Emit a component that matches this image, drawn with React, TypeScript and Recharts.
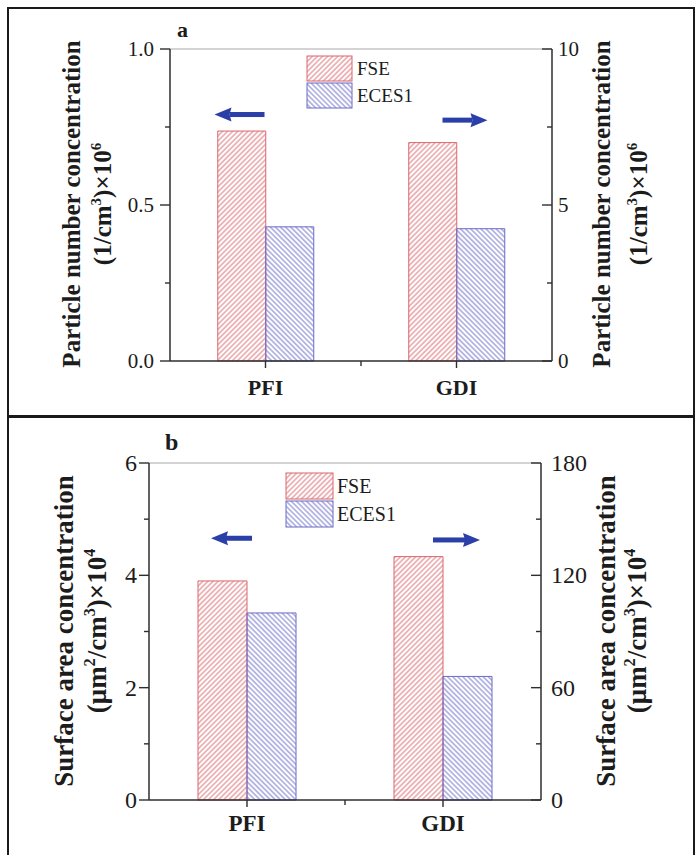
import type { ReactNode } from "react";
import { BarChart, Bar, XAxis, YAxis, ReferenceLine, ReferenceDot, Legend } from "recharts";

const FONT = "'Liberation Serif', 'Times New Roman', serif";
const INK = "#1c1c1c";
const AXIS = "#2e2e2e";
const RED = "#d9666c";
const BLUE = "#6a6ac8";
const ARROW = "#2b3fa8";

// PFI is read on the left axis, GDI on the right axis
const categories = ["PFI", "GDI"];
const axisOf = ["left", "right"];
const seriesNames = ["FSE", "ECES1"];

// (a) particle number concentration
const numberFse = [0.737, 7.0];
const numberEces = [0.43, 4.24];
const numberLeftTicks = [0, 0.25, 0.5, 0.75, 1];
const numberLeftLabels = ["0.0", "", "0.5", "", "1.0"];
const numberRightTicks = [0, 2.5, 5, 7.5, 10];
const numberRightLabels = ["0", "", "5", "", "10"];

// (b) surface area concentration
const areaFse = [3.9, 130];
const areaEces = [3.33, 66];
const areaLeftTicks = [0, 1, 2, 3, 4, 5, 6];
const areaLeftLabels = ["0", "", "2", "", "4", "", "6"];
const areaRightTicks = [0, 30, 60, 90, 120, 150, 180];
const areaRightLabels = ["0", "", "60", "", "120", "", "180"];

// arrow annotations: category, axis, height, and tip/tail offsets from the category centre
const numberArrows = [
  { cat: "PFI", side: "left", y: 0.79, tip: -51, tail: -1 },
  { cat: "GDI", side: "right", y: 7.72, tip: 31, tail: -14 },
];
const areaArrows = [
  { cat: "PFI", side: "left", y: 4.66, tip: -36, tail: 5 },
  { cat: "GDI", side: "right", y: 138.9, tip: 37, tail: -10 },
];

function buildRows(fse: number[], eces: number[]) {
  return categories.map((cat, i) => ({
    cat,
    fseLeft: axisOf[i] === "left" ? fse[i] : null,
    ecesLeft: axisOf[i] === "left" ? eces[i] : null,
    fseRight: axisOf[i] === "right" ? fse[i] : null,
    ecesRight: axisOf[i] === "right" ? eces[i] : null,
  }));
}

function sup(text: string, size: number, tail: string) {
  return [
    <tspan key={`s${text}`} dy={-size * 0.42} fontSize={size * 0.6}>{text}</tspan>,
    <tspan key={`t${text}`} dy={size * 0.42}>{tail}</tspan>,
  ];
}

function YTick(props: any) {
  const { x, y, payload, ticks, labels, side, gap, fontSize } = props;
  const label = labels[ticks.indexOf(payload.value)] ?? "";
  const len = label ? 10 : 5;
  return (
    <g>
      <line x1={x} x2={x - len} y1={y} y2={y} stroke={AXIS} strokeWidth={1.4} />
      {label && (
        <text
          x={side === "left" ? x - gap : x + gap}
          y={y}
          dy="0.34em"
          textAnchor={side === "left" ? "end" : "start"}
          fontFamily={FONT}
          fontSize={fontSize}
          fill={INK}
        >
          {label}
        </text>
      )}
    </g>
  );
}

function CatTick(props: any) {
  const { x, y, payload, index, midOffset, labelDy, fontSize } = props;
  return (
    <g>
      <line x1={x} x2={x} y1={y} y2={y + 7} stroke={AXIS} strokeWidth={1.4} />
      {index === 0 && (
        <line x1={x + midOffset} x2={x + midOffset} y1={y} y2={y + 5} stroke={AXIS} strokeWidth={1.4} />
      )}
      <text x={x} y={y + labelDy} textAnchor="middle" fontFamily={FONT} fontWeight="bold" fontSize={fontSize} fill={INK}>
        {payload.value}
      </text>
    </g>
  );
}

function AxisTitle({ x1, x2, cy, size, line1, line2 }: { x1: number; x2: number; cy: number; size: number; line1: string; line2: ReactNode }) {
  return (
    <g fontFamily={FONT} fontWeight="bold" fontSize={size} fill={INK}>
      <text transform={`translate(${x1},${cy}) rotate(-90)`} textAnchor="middle">{line1}</text>
      <text transform={`translate(${x2},${cy}) rotate(-90)`} textAnchor="middle">{line2}</text>
    </g>
  );
}

function Arrow({ cx, cy, tip, tail }: { cx: number; cy: number; tip: number; tail: number }) {
  const dir = tip < tail ? -1 : 1;
  const head = 15;
  const baseX = cx + tip - dir * head;
  return (
    <g fill={ARROW}>
      <rect x={Math.min(baseX, cx + tail)} y={cy - 2.5} width={Math.abs(cx + tail - baseX)} height={5} />
      <polygon points={`${cx + tip},${cy} ${baseX - dir * 2},${cy - 7} ${baseX},${cy} ${baseX - dir * 2},${cy + 7}`} />
    </g>
  );
}

function HatchLegend({ id, size, swW, swH, textX }: { id: string; size: number; swW: number; swH: number; textX: number }) {
  const fills = [`url(#${id}-fse)`, `url(#${id}-eces)`];
  const strokes = [RED, BLUE];
  return (
    <svg width={textX + 70} height={swH * 2 + 6} style={{ display: "block", overflow: "visible" }}>
      {seriesNames.map((name, i) => (
        <g key={name}>
          <rect x={1} y={1 + i * (swH + 2)} width={swW} height={swH} fill={fills[i]} stroke={strokes[i]} strokeWidth={1} />
          <text x={textX} y={1 + i * (swH + 2) + swH / 2} dy="0.34em" fontFamily={FONT} fontSize={size} fill={INK}>
            {name}
          </text>
        </g>
      ))}
    </svg>
  );
}

interface PanelProps {
  id: string;
  top: number;
  height: number;
  fse: number[];
  eces: number[];
  leftTicks: number[];
  leftLabels: string[];
  rightTicks: number[];
  rightLabels: string[];
  arrows: { cat: string; side: string; y: number; tip: number; tail: number }[];
  margin: { top: number; right: number; bottom: number; left: number };
  plot: { left: number; right: number };
  tickSize: number;
  leftGap: number;
  rightGap: number;
  catSize: number;
  catDy: number;
  titleSize: number;
  titleY: number;
  leftTitleX: [number, number];
  rightTitleX: [number, number];
  title: string;
  unit: ReactNode;
  letter: { x: number; y: number; size: number };
  legend: { left: number; top: number; size: number; w: number; h: number; textX: number };
}

function Panel(p: PanelProps) {
  const rows = buildRows(p.fse, p.eces);
  const leftMax = p.leftTicks[p.leftTicks.length - 1];
  const rightMax = p.rightTicks[p.rightTicks.length - 1];
  const axisLine = { stroke: AXIS, strokeWidth: 1.5 };
  const title = (x: [number, number]) => () => (
    <AxisTitle x1={x[0]} x2={x[1]} cy={p.titleY} size={p.titleSize} line1={p.title} line2={p.unit} />
  );
  return (
    <div style={{ position: "absolute", left: 0, top: p.top }}>
      <BarChart width={699} height={p.height} data={rows} margin={p.margin} barCategoryGap="25%" barGap={0}>
        <defs>
          <pattern id={`${p.id}-fse`} patternUnits="userSpaceOnUse" width={3.6} height={3.6} patternTransform="rotate(45)">
            <line x1={1.8} y1={0} x2={1.8} y2={3.6} stroke={RED} strokeWidth={0.9} />
          </pattern>
          <pattern id={`${p.id}-eces`} patternUnits="userSpaceOnUse" width={3.6} height={3.6} patternTransform="rotate(-45)">
            <line x1={1.8} y1={0} x2={1.8} y2={3.6} stroke={BLUE} strokeWidth={0.9} />
          </pattern>
        </defs>
        <text x={p.letter.x} y={p.letter.y} fontFamily={FONT} fontWeight="bold" fontSize={p.letter.size} fill={INK}>
          {p.id}
        </text>
        <XAxis xAxisId="alt" dataKey="cat" orientation="top" height={0} hide />
        <XAxis
          xAxisId="main"
          dataKey="cat"
          height={30}
          interval={0}
          tickSize={0}
          tickMargin={0}
          tickLine={false}
          axisLine={axisLine}
          tick={(t: any) => (
            <CatTick {...t} midOffset={(p.plot.right - p.plot.left) / 4} labelDy={p.catDy} fontSize={p.catSize} />
          )}
        />
        <YAxis
          yAxisId="left"
          width={110}
          domain={[0, leftMax]}
          ticks={p.leftTicks}
          interval={0}
          tickSize={0}
          tickMargin={0}
          tickLine={false}
          axisLine={axisLine}
          tick={(t: any) => (
            <YTick {...t} ticks={p.leftTicks} labels={p.leftLabels} side="left" gap={p.leftGap} fontSize={p.tickSize} />
          )}
          label={title(p.leftTitleX)}
        />
        <YAxis
          yAxisId="right"
          orientation="right"
          width={110}
          domain={[0, rightMax]}
          ticks={p.rightTicks}
          interval={0}
          tickSize={0}
          tickMargin={0}
          tickLine={false}
          axisLine={axisLine}
          tick={(t: any) => (
            <YTick {...t} ticks={p.rightTicks} labels={p.rightLabels} side="right" gap={p.rightGap} fontSize={p.tickSize} />
          )}
          label={title(p.rightTitleX)}
        />
        <ReferenceLine xAxisId="main" yAxisId="left" y={leftMax} stroke="#a8a8a8" strokeWidth={1} />
        <Bar xAxisId="main" yAxisId="left" dataKey="fseLeft" name="FSE" fill={`url(#${p.id}-fse)`} stroke={RED} strokeWidth={1} isAnimationActive={false} />
        <Bar xAxisId="main" yAxisId="left" dataKey="ecesLeft" name="ECES1" fill={`url(#${p.id}-eces)`} stroke={BLUE} strokeWidth={1} isAnimationActive={false} />
        <Bar xAxisId="alt" yAxisId="right" dataKey="fseRight" name="FSE" fill={`url(#${p.id}-fse)`} stroke={RED} strokeWidth={1} isAnimationActive={false} />
        <Bar xAxisId="alt" yAxisId="right" dataKey="ecesRight" name="ECES1" fill={`url(#${p.id}-eces)`} stroke={BLUE} strokeWidth={1} isAnimationActive={false} />
        {p.arrows.map((a) => (
          <ReferenceDot
            key={a.cat}
            xAxisId={a.side === "left" ? "main" : "alt"}
            yAxisId={a.side}
            x={a.cat}
            y={a.y}
            shape={(d: any) => <Arrow cx={d.cx} cy={d.cy} tip={a.tip} tail={a.tail} />}
          />
        ))}
        <Legend
          layout="vertical"
          align="center"
          verticalAlign="middle"
          wrapperStyle={{ left: p.legend.left, top: p.legend.top, width: "auto" }}
          content={() => (
            <HatchLegend id={p.id} size={p.legend.size} swW={p.legend.w} swH={p.legend.h} textX={p.legend.textX} />
          )}
        />
      </BarChart>
    </div>
  );
}

const frame = { position: "absolute" as const, left: 7, width: 688, border: "2.5px solid #1a1a1a", boxSizing: "border-box" as const };

export default function App() {
  return (
    <div style={{ position: "absolute", left: 0, top: 0, width: 699, height: 855, overflow: "hidden", background: "#fff" }}>
      <Panel
        id="a"
        top={0}
        height={415}
        fse={numberFse}
        eces={numberEces}
        leftTicks={numberLeftTicks}
        leftLabels={numberLeftLabels}
        rightTicks={numberRightTicks}
        rightLabels={numberRightLabels}
        arrows={numberArrows}
        margin={{ top: 49, right: 37, bottom: 24, left: 60 }}
        plot={{ left: 170, right: 552 }}
        tickSize={21}
        leftGap={16}
        rightGap={6}
        catSize={22}
        catDy={34}
        titleSize={25}
        titleY={204}
        leftTitleX={[80, 111]}
        rightTitleX={[610, 647]}
        title="Particle number concentration"
        unit={["(1/cm", ...sup("3", 25, ")×10"), <tspan key="e" dy={-25 * 0.42} fontSize={15}>6</tspan>]}
        letter={{ x: 177, y: 37, size: 22 }}
        legend={{ left: 306, top: 55, size: 19, w: 45, h: 25, textX: 51 }}
      />
      <Panel
        id="b"
        top={415}
        height={440}
        fse={areaFse}
        eces={areaEces}
        leftTicks={areaLeftTicks}
        leftLabels={areaLeftLabels}
        rightTicks={areaRightTicks}
        rightLabels={areaRightLabels}
        arrows={areaArrows}
        margin={{ top: 48, right: 48, bottom: 25, left: 39 }}
        plot={{ left: 149, right: 541 }}
        tickSize={24}
        leftGap={12}
        rightGap={10}
        catSize={23}
        catDy={31}
        titleSize={27}
        titleY={216}
        leftTitleX={[73, 106]}
        rightTitleX={[615, 646]}
        title="Surface area concentration"
        unit={["(μm", ...sup("2", 27, "/cm"), ...sup("3", 27, ")×10"), <tspan key="e" dy={-27 * 0.42} fontSize={16}>4</tspan>]}
        letter={{ x: 165, y: 35, size: 24 }}
        legend={{ left: 285, top: 57, size: 20, w: 47, h: 26, textX: 52 }}
      />
      <div style={{ ...frame, top: 7, height: 411 }} />
      <div style={{ ...frame, top: 415, height: 460 }} />
    </div>
  );
}
